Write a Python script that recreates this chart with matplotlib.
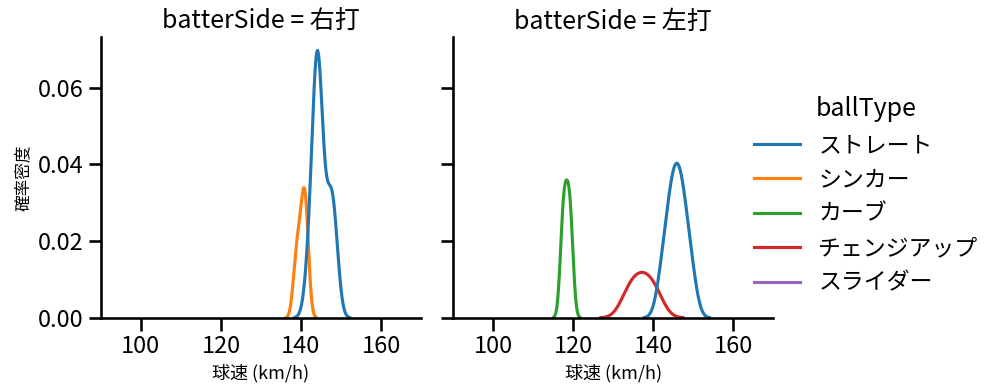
import matplotlib
matplotlib.use("Agg")
import matplotlib.pyplot as plt
import seaborn as sns
import pandas as pd

sides = ["右打", "左打"]
ball_types = ["ストレート", "シンカー", "カーブ", "チェンジアップ", "スライダー"]

# 右打 (km/h)
r_straight = [142, 143, 144, 144, 144, 144, 144, 145, 145, 146.6, 147.4, 148, 148.5]
r_sinker = [138.8, 140, 141, 141.2]

# 左打 (km/h)
l_straight = [142.1, 143.5, 144.3, 145.0, 145.6, 146.2, 146.8, 147.5, 148.3, 149.7]
l_curve = [117.3, 118.0, 118.8, 119.5]
l_change = [133.7, 136.2, 138.2, 140.7]
l_slider = [128]

groups = [
    ("右打", "ストレート", r_straight),
    ("右打", "シンカー", r_sinker),
    ("左打", "ストレート", l_straight),
    ("左打", "カーブ", l_curve),
    ("左打", "チェンジアップ", l_change),
    ("左打", "スライダー", l_slider),
]
rows = []
for side, bt, speeds in groups:
    for v in speeds:
        rows.append({"batterSide": side, "ballType": bt, "speed": v})
df = pd.DataFrame(rows)

sns.set_context("talk")
plt.rcParams["font.family"] = ["Noto Sans CJK JP", "DejaVu Sans"]

g = sns.displot(data=df, x="speed", hue="ballType", col="batterSide", kind="kde",
                hue_order=ball_types, col_order=sides, height=4, aspect=0.9)
g.set(xlim=(90, 170))
g.set_xlabels("球速 (km/h)", fontsize=13)
g.set_ylabels("確率密度", fontsize=12)
for ax in g.axes.flat:
    ax.tick_params(labelsize=17)

fig = g.figure
fig.set_size_inches(9.99, 3.91)
fig.subplots_adjust(left=0.101, right=0.774, bottom=0.187, top=0.905, wspace=0.1)
fig.savefig("out.png", dpi=100)
